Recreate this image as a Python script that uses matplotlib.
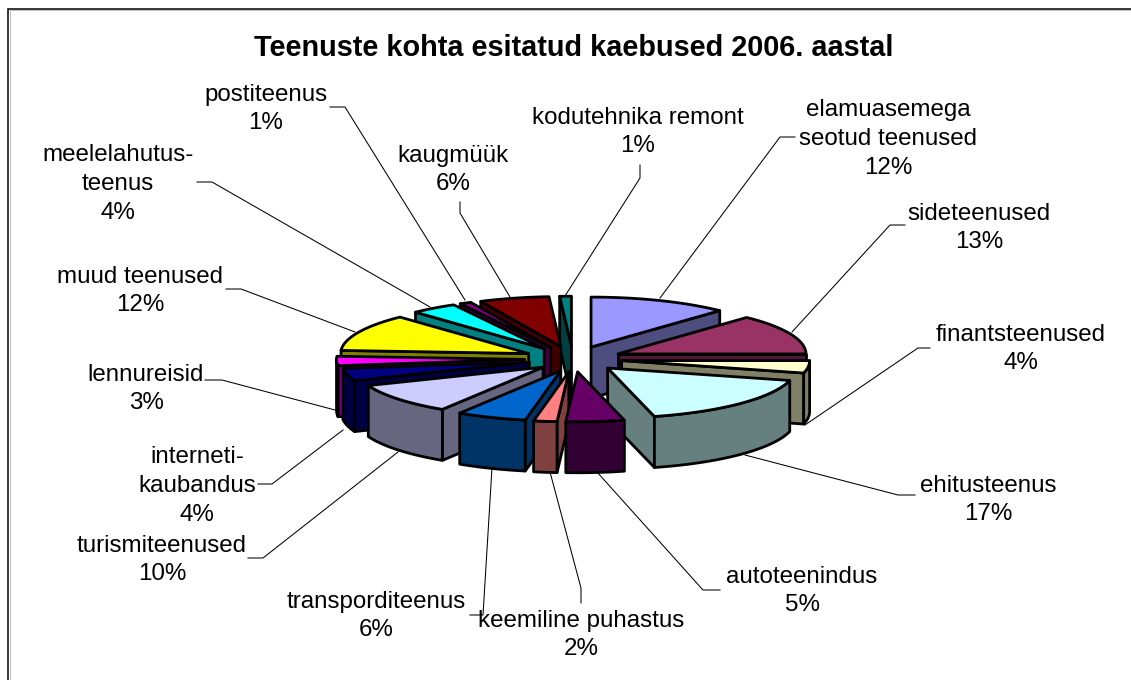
import numpy as np
import matplotlib
matplotlib.use("Agg")
import matplotlib.pyplot as plt
from matplotlib.patches import Polygon

title = "Teenuste kohta esitatud kaebused 2006. aastal"
categories = ["elamuasemega\nseotud teenused", "sideteenused", "finantsteenused", "ehitusteenus",
              "autoteenindus", "keemiline puhastus", "transporditeenus", "turismiteenused",
              "interneti-\nkaubandus", "lennureisid", "muud teenused", "meelelahutus-\nteenus",
              "postiteenus", "kaugmüük", "kodutehnika remont"]
values = [12, 13, 4, 17, 5, 2, 6, 10, 4, 3, 12, 4, 1, 6, 1]
colors = ["#9999FF", "#993366", "#FFFFCC", "#CCFFFF", "#660066", "#FF8080", "#0066CC", "#CCCCFF",
          "#000080", "#FF00FF", "#FFFF00", "#00FFFF", "#800080", "#800000", "#008080"]

# layout (pixels)
label_pos = [(888, 139), (979, 228), (1021, 349), (988, 500), (802, 591), (581, 635), (376, 616),
             (162, 560), (197, 486), (146, 389), (140, 291), (118, 184), (266, 109), (453, 170), (638, 132)]
leaders = [[(795, 137), (780, 137), (660, 298)], [(905, 225), (890, 225), (792, 332)],
           [(930, 348), (918, 348), (805, 425)], [(915, 495), (898, 495), (745, 455)],
           [(720, 590), (703, 590), (597, 472)], [(581, 603), (581, 588), (550, 472)],
           [(470, 615), (483, 615), (492, 468)], [(248, 558), (263, 558), (398, 452)],
           [(258, 484), (272, 484), (343, 430)], [(205, 380), (222, 380), (335, 410)],
           [(226, 289), (241, 289), (355, 332)], [(197, 182), (212, 182), (430, 307)],
           [(330, 107), (345, 107), (465, 300)], [(460, 202), (460, 213), (510, 297)],
           [(640, 165), (640, 178), (565, 296)]]
CX, CY, A, B, EX, EY, DEPTH = 573, 359, 188, 50, 49, 12.8, 51
FRONT_LEFT_SHIFT = 8
FONT = "Liberation Sans"

fig = plt.figure(figsize=(11.31, 6.8), dpi=100)
ax = fig.add_axes([0, 0, 1, 1])
ax.set_xlim(0, 1131)
ax.set_ylim(680, 0)
ax.axis("off")

# chart frame: only the top and left edges are visible
ax.plot([8, 8, 1131], [680, 8.5, 8.5], color="black", lw=1.1, zorder=1, solid_joinstyle="miter")
ax.plot([9.5, 9.5, 1131], [680, 10, 10], color="#c0c0c0", lw=0.7, zorder=0.9)

for pts in leaders:
    ax.plot(*zip(*pts), color="black", lw=0.75, zorder=2)

total = sum(values)
edges = np.cumsum([0] + values) / total * 2 * np.pi


def shade(hex_color):
    return tuple(c * 0.5 for c in matplotlib.colors.to_rgb(hex_color))


def rim(t, ax0, ay0):
    return np.column_stack([ax0 + A * np.sin(t), ay0 - B * np.cos(t)])


order = sorted(range(len(values)), key=lambda i: -np.cos((edges[i] + edges[i + 1]) / 2))
style = dict(edgecolor="black", lw=2.0, joinstyle="round")
z = 3
for i in order:
    t1, t2 = edges[i], edges[i + 1]
    mid = (t1 + t2) / 2
    x0, y0 = CX + EX * np.sin(mid), CY - EY * np.cos(mid)
    if np.pi < mid < 1.5 * np.pi:
        x0 += FRONT_LEFT_SHIFT * np.sin(2 * (mid - np.pi))
    apex = np.array([x0, y0])
    down = np.array([0, DEPTH])
    dark = shade(colors[i])
    # radial faces turned toward the viewer
    for t, visible in ((t2, np.sin(t2) > 0), (t1, np.sin(t1) < 0)):
        if visible:
            p = rim(np.array([t]), x0, y0)[0]
            ax.add_patch(Polygon([apex, p, p + down, apex + down], closed=True,
                                 facecolor=dark, zorder=z, **style))
            z += 1
    # curved outer wall on the front half
    lo, hi = max(t1, np.pi / 2), min(t2, 3 * np.pi / 2)
    if hi > lo:
        r = rim(np.linspace(lo, hi, 40), x0, y0)
        ax.add_patch(Polygon(np.vstack([r, (r + down)[::-1]]), closed=True,
                             facecolor=dark, zorder=z, **style))
        z += 1
    # top face
    top = np.vstack([apex, rim(np.linspace(t1, t2, 60), x0, y0)])
    ax.add_patch(Polygon(top, closed=True, facecolor=colors[i], zorder=z, **style))
    z += 1

ax.text(574, 48.5, title, ha="center", va="center", fontsize=20.75, fontweight="bold",
        family=FONT, color="black", zorder=200)
for cat, val, (x, y) in zip(categories, values, label_pos):
    ax.text(x, y, f"{cat}\n{val}%", ha="center", va="center", multialignment="center",
            fontsize=17.4, family=FONT, color="black", linespacing=1.41, zorder=200)

fig.savefig("out.png", dpi=100, facecolor="white")
